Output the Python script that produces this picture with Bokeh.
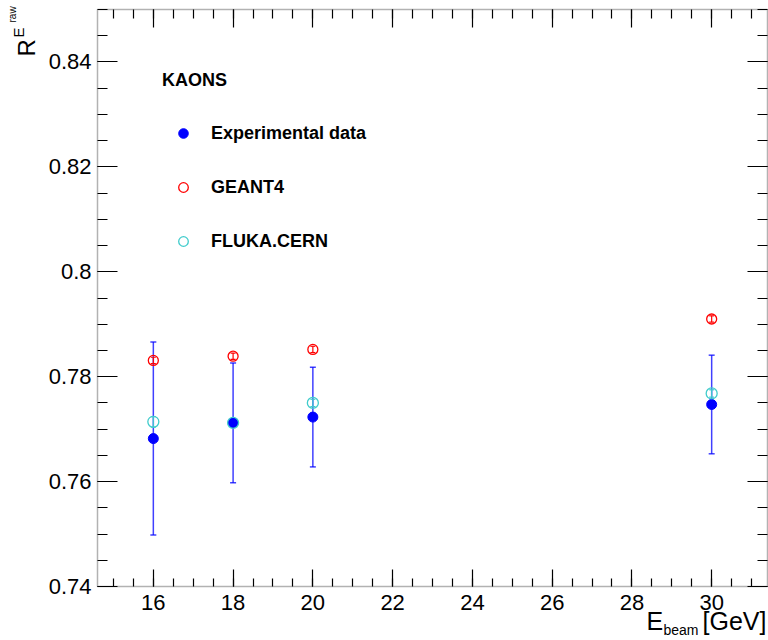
from bokeh.plotting import figure
from bokeh.models import (ColumnDataSource, Whisker, TeeHead, FixedTicker, LinearAxis,
                          CustomJSTickFormatter, Label, Legend, LegendItem, BoxAnnotation)
from bokeh.embed import file_html
from bokeh.resources import INLINE
import math

# Beam energies [GeV]
energy = [16, 18, 20, 30]

# Experimental data with its uncertainty
exp_r = [0.7682, 0.7712, 0.7723, 0.7747]
exp_err = [0.0184, 0.0114, 0.0095, 0.0094]

# GEANT4 simulation
g4_r = [0.7831, 0.7839, 0.7852, 0.7910]
g4_err = [0.0006, 0.0006, 0.0006, 0.0006]

# FLUKA.CERN simulation
fl_r = [0.7714, 0.7712, 0.7750, 0.7768]
fl_err = [0.0010, 0.0008, 0.0007, 0.0007]

x_major = [16, 18, 20, 22, 24, 26, 28, 30]
y_major = [0.74, 0.76, 0.78, 0.80, 0.82, 0.84]

# axis frame limits
X0, X1 = 14.6, 31.4
Y0, Y1 = 0.74, 0.85

W, H = 768, 640
# frame box position on the canvas (pixels)
FL, FR, FT, FB = 97, 767, 9, 586
FONT = "Liberation Sans"
CYAN = "#40cccc"

# the plotting area spans the whole canvas; the frame box sits inside it
kx = (X1 - X0) / (FR - FL)
ky = (Y1 - Y0) / (FB - FT)
x_lo, x_hi = X0 - FL * kx, X1 + (W - FR) * kx
y_lo, y_hi = Y0 - (H - FB) * ky, Y1 + FT * ky

def dx(px):
    return x_lo + px * kx

def dy(py):
    return y_hi - py * ky

p = figure(width=W, height=H, x_range=(x_lo, x_hi), y_range=(y_lo, y_hi),
           output_backend="svg", toolbar_location=None,
           min_border=0, x_axis_type=None, y_axis_type=None)
p.grid.visible = False
p.outline_line_color = None
p.background_fill_color = "white"
p.border_fill_color = "white"

p.add_layout(BoxAnnotation(left=X0, right=X1, bottom=Y0, top=Y1,
                           fill_alpha=0, line_color="black", line_width=1.5))

x_minor = [15 + 0.5 * k for k in range(33)]
y_minor = [round(0.74 + 0.005 * k, 3) for k in range(23)]
xt = FixedTicker(ticks=x_major, minor_ticks=x_minor)
yt = FixedTicker(ticks=y_major, minor_ticks=y_minor)
num_fmt = CustomJSTickFormatter(code="return (Math.round(tick*100)/100).toString()")
blank_fmt = CustomJSTickFormatter(code="return ''")

def style(ax, major, minor, labels=True):
    ax.axis_line_color = None
    ax.major_tick_in = major
    ax.major_tick_out = 0
    ax.minor_tick_in = minor
    ax.minor_tick_out = 0
    ax.major_tick_line_color = "black"
    ax.minor_tick_line_color = "black"
    ax.major_tick_line_width = 1.2
    ax.minor_tick_line_width = 1.2
    if labels:
        ax.major_label_text_font = FONT
        ax.major_label_text_font_size = "22px"
        ax.major_label_text_color = "black"
    else:
        ax.major_label_text_font_size = "0px"
        ax.major_label_standoff = 0

xb = LinearAxis(ticker=xt, formatter=num_fmt, fixed_location=Y0)
style(xb, 17, 8)
xb.major_label_standoff = 8
p.add_layout(xb, "below")

yl = LinearAxis(ticker=yt, formatter=num_fmt, fixed_location=X0)
style(yl, 20, 10)
yl.major_label_standoff = 6
p.add_layout(yl, "left")

xtp = LinearAxis(ticker=xt, formatter=blank_fmt, fixed_location=Y1)
style(xtp, 18, 9, labels=False)
p.add_layout(xtp, "above")

yr = LinearAxis(ticker=yt, formatter=blank_fmt, fixed_location=X1)
style(yr, 20, 10, labels=False)
p.add_layout(yr, "right")

# error bars
def bars(r, err, color, width, alpha, head):
    src = ColumnDataSource(dict(x=energy,
                                lo=[a - b for a, b in zip(r, err)],
                                hi=[a + b for a, b in zip(r, err)]))
    w = Whisker(source=src, base="x", lower="lo", upper="hi", dimension="height",
                line_color=color, line_width=width, line_alpha=alpha,
                upper_head=TeeHead(size=head, line_color=color, line_width=width, line_alpha=alpha),
                lower_head=TeeHead(size=head, line_color=color, line_width=width, line_alpha=alpha))
    p.add_layout(w)

bars(exp_r, exp_err, "blue", 1.5, 0.75, 6)
exp_renderer = p.scatter(energy, exp_r, size=10, marker="circle",
                         fill_color="blue", line_color="blue")

bars(g4_r, g4_err, "red", 1.2, 1.0, 5)
g4_renderer = p.scatter(energy, g4_r, size=10, marker="circle",
                        fill_color=None, line_color="red", line_width=1.3)

bars(fl_r, fl_err, CYAN, 1.2, 1.0, 5)
fl_renderer = p.scatter(energy, fl_r, size=11, marker="circle",
                        fill_color=None, line_color=CYAN, line_width=1.3)

# legend block in the upper left of the frame
legend = Legend(items=[LegendItem(label="Experimental data", renderers=[exp_renderer]),
                       LegendItem(label="GEANT4", renderers=[g4_renderer]),
                       LegendItem(label="FLUKA.CERN", renderers=[fl_renderer])],
                location=(162, H - 253), title="KAONS",
                margin=0, padding=0, spacing=30,
                glyph_width=42, glyph_height=24, label_height=24, label_standoff=7,
                title_standoff=30,
                border_line_color=None, background_fill_alpha=0)
legend.title_text_font = FONT
legend.title_text_font_style = "bold"
legend.title_text_font_size = "18px"
legend.title_text_color = "black"
legend.label_text_font = FONT
legend.label_text_font_style = "bold"
legend.label_text_font_size = "18px"
legend.label_text_color = "black"
legend.label_text_baseline = "middle"
p.add_layout(legend)

# axis titles; (px, py) is the start of the text baseline on the canvas
def txt(t, px, py, size, angle=0.0):
    drop = 0.4 * size
    if angle == 0.0:
        py -= drop
    else:
        px -= drop
    p.add_layout(Label(x=dx(px), y=dy(py), text=t, angle=angle,
                       text_font=FONT, text_font_size=f"{size}px", text_color="black",
                       text_align="left", text_baseline="alphabetic"))

txt("E", 646, 630, 25)
txt("beam", 663, 635, 14)
txt("[GeV]", 702, 630, 25)

txt("R", 36, 56, 24, math.pi / 2)
txt("E", 24, 37, 15, math.pi / 2)
txt("raw", 16, 22, 10, math.pi / 2)

open("out.html", "w").write(file_html(p, INLINE))
